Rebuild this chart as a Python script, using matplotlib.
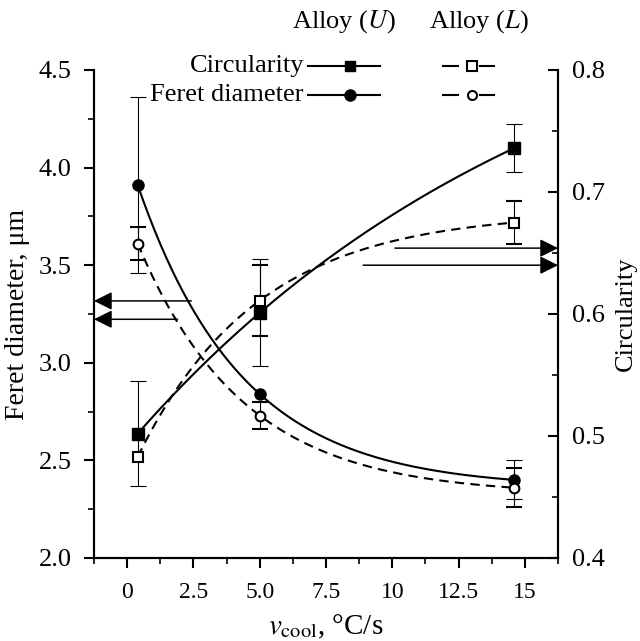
import numpy as np
import matplotlib
matplotlib.use("Agg")
from matplotlib import pyplot as plt
from matplotlib.lines import Line2D
from matplotlib.ticker import MultipleLocator, FixedLocator

plt.rcParams['font.family'] = ['Liberation Serif', 'DejaVu Serif']
plt.rcParams['mathtext.fontset'] = 'stix'

# cooling rates, C/s
vcool = [0.4, 5.0, 14.6]

# Feret diameter, um
feret_u = [3.91, 2.84, 2.40]
feret_u_err = [0.45, np.nan, 0.10]
feret_l = [3.61, 2.73, 2.36]
feret_l_err = [0.085, 0.07, 0.10]

# circularity
circ_u = [0.502, 0.601, 0.736]
circ_u_err = [0.043, 0.044, 0.020]
circ_l = [0.483, 0.611, 0.675]
circ_l_err = [np.nan, 0.029, 0.018]

# arrows: (start x, y) on the left axis and (start x, y) on the right axis
arrows_left = [(2.42, 3.317), (1.90, 3.223)]
arrows_right = [(10.1, 0.654), (8.9, 0.640)]


def curva(x, y, n=200):
    "y = a + b*exp(-k*x) pasando por los tres puntos"
    x = np.asarray(x, float)
    y = np.asarray(y, float)
    r = (y[0] - y[1]) / (y[1] - y[2])
    g = lambda k: (np.exp(-k*x[0]) - np.exp(-k*x[1])) / (np.exp(-k*x[1]) - np.exp(-k*x[2]))
    lo, hi = 1e-6, 5.0
    for _ in range(200):
        mid = 0.5*(lo + hi)
        if g(mid) < r:
            lo = mid
        else:
            hi = mid
    k = 0.5*(lo + hi)
    b = (y[0] - y[1]) / (np.exp(-k*x[0]) - np.exp(-k*x[1]))
    a = y[0] - b*np.exp(-k*x[0])
    xs = np.linspace(x[0], x[-1], n)
    return xs, a + b*np.exp(-k*xs)


fig = plt.figure(figsize=(6.4, 6.41), dpi=100)
ax = fig.add_axes([94/640, 1 - 558/641, (558-94)/640, (558-70)/641])
ax2 = ax.twinx()

dash = (0, (4.5, 3))
lw = 1.5
eb = dict(ecolor='k', elinewidth=0.8, capsize=5.5, capthick=0.8)

# Feret diameter (left axis)
xs, ys = curva(vcool, feret_u)
ax.plot(xs, ys, 'k-', lw=lw)
xs, ys = curva(vcool, feret_l)
ax.plot(xs, ys, color='k', ls=dash, lw=lw)
ax.errorbar(vcool, feret_u, yerr=feret_u_err, fmt='o', color='k', mfc='k', ms=8, **eb)
ax.errorbar(vcool, feret_l, yerr=feret_l_err, fmt='o', color='k', mfc='white', ms=7,
            mew=1.5, **eb)

# circularity (right axis)
xs, ys = curva(vcool, circ_u)
ax2.plot(xs, ys, 'k-', lw=lw)
xs, ys = curva(vcool, circ_l)
ax2.plot(xs, ys, color='k', ls=dash, lw=lw)
ax2.errorbar(vcool, circ_u, yerr=circ_u_err, fmt='s', color='k', mfc='k', ms=8, **eb)
ax2.errorbar(vcool, circ_l, yerr=circ_l_err, fmt='s', color='k', mfc='white', ms=7,
             mew=1.5, **eb)

ax.set_xlim(-1.25, 16.25)
ax.set_ylim(2.0, 4.5)
ax2.set_ylim(0.4, 0.8)

# flechas
ap = dict(arrowstyle='-|>,head_length=1.1,head_width=0.55', color='k', lw=1.1,
          shrinkA=0, shrinkB=0, mutation_scale=10)
for x0, y0 in arrows_left:
    ax.annotate('', xy=(-1.25, y0), xytext=(x0, y0), arrowprops=ap, annotation_clip=False)
for x0, y0 in arrows_right:
    ax2.annotate('', xy=(16.25, y0), xytext=(x0, y0), arrowprops=ap, annotation_clip=False)

# ejes
for a in (ax, ax2):
    a.spines['top'].set_visible(False)
    for s in ('left', 'right', 'bottom'):
        a.spines[s].set_linewidth(1.5)

ax.xaxis.set_major_locator(FixedLocator([0, 2.5, 5, 7.5, 10, 12.5, 15]))
ax.set_xticklabels(['0', '2.5', '5.0', '7.5', '10', '12.5', '15'])
ax.xaxis.set_minor_locator(FixedLocator(np.arange(-1.25, 16.3, 2.5)))
ax.yaxis.set_major_locator(MultipleLocator(0.5))
ax.yaxis.set_minor_locator(MultipleLocator(0.25))
ax2.yaxis.set_major_locator(MultipleLocator(0.1))
ax2.yaxis.set_minor_locator(MultipleLocator(0.05))

ax.tick_params(axis='both', which='major', direction='out', length=7, width=1.5)
ax.tick_params(axis='both', which='minor', direction='out', length=4, width=1.2)
ax.tick_params(axis='x', labelsize=17, pad=10)
ax.tick_params(axis='y', labelsize=19, pad=9)
ax2.tick_params(axis='y', which='major', direction='in', length=7, width=1.5, labelsize=19, pad=10)
ax2.tick_params(axis='y', which='minor', direction='in', length=4, width=1.2)

ax.set_xlabel(r'$v_{\rm cool}$, °C/s', fontsize=21, labelpad=7)
ax.set_ylabel('Feret diameter, μm', fontsize=20, labelpad=6)
ax2.set_ylabel('Circularity', fontsize=19, labelpad=7)

# leyenda
def fx(px):
    return px/640

def fy(py):
    return 1 - py/641

fig.text(fx(344), fy(22), r'Alloy ($U$)', ha='center', va='center', fontsize=19)
fig.text(fx(479), fy(22), r'Alloy ($L$)', ha='center', va='center', fontsize=19)
filas = [('Circularity', 's', 66), ('Feret diameter', 'o', 95)]
for nombre, m, py in filas:
    fig.text(fx(304), fy(py), nombre, ha='right', va='center', fontsize=19)
    fig.add_artist(Line2D([fx(308), fx(380)], [fy(py), fy(py)], color='k', lw=lw))
    fig.add_artist(Line2D([fx(350)], [fy(py)], marker=m, color='k', mfc='k', ms=8 if m == 'o' else 7.5))
    # trazos cortos a cada lado del marcador
    fig.add_artist(Line2D([fx(443), fx(458)], [fy(py), fy(py)], color='k', lw=lw))
    fig.add_artist(Line2D([fx(480), fx(494)], [fy(py), fy(py)], color='k', lw=lw))
    fig.add_artist(Line2D([fx(472)], [fy(py)], marker=m, color='k', mfc='white', ms=6.5, mew=1.5))

fig.savefig('out.png', dpi=100)
